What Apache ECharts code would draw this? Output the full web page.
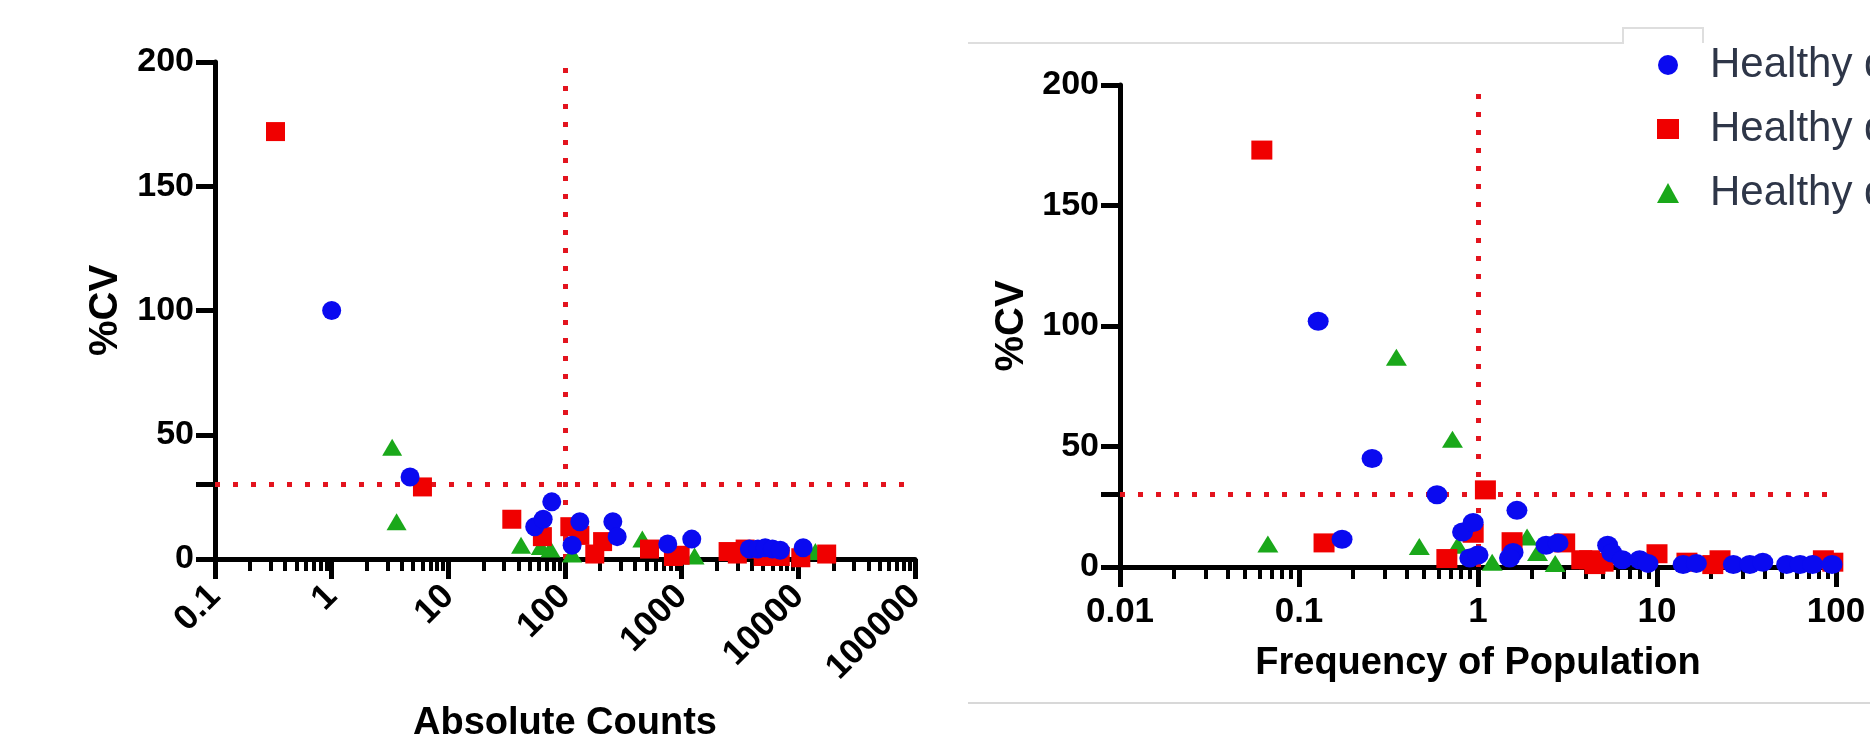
<!DOCTYPE html>
<html><head><meta charset="utf-8">
<script src="https://cdn.jsdelivr.net/npm/echarts@6/dist/echarts.min.js"></script>
<style>html,body{margin:0;padding:0;background:#fff}#c{width:1870px;height:748px}</style>
</head><body><div id="c"></div>
<script>
// ---------- data ----------
const seriesNames = ['Healthy donor 1', 'Healthy donor 2', 'Healthy donor 3'];
// Left panel: [absolute count, %CV]
const countsDonor1 = [[1,100],[4.7,33],[55,13],[65,16],[77,23],[115,5.5],[134,15],[257,15],[280,9],[760,6],[1220,8],[3800,4],[4500,4],[5200,4.5],[6000,4],[7000,3.5],[11000,4.5]];
const countsDonor2 = [[0.33,172],[6,29],[35,16],[64,9],[110,13],[134,9.5],[180,2],[210,7],[530,4],[850,1],[970,1.5],[2500,3],[3000,2],[3500,4],[5000,1],[7000,1],[10500,0.5],[17500,2]];
const countsDonor3 = [[3.3,45],[3.6,15],[42,5.5],[62,5],[75,4],[115,2],[460,8],[1290,1.2],[14000,3]];
// Right panel: [frequency of population, %CV]
const freqDonor1 = [[0.128,102],[0.174,11.5],[0.256,45],[0.59,30],[0.82,14.5],[0.94,18.5],[0.9,3.7],[1.0,5],[1.65,23.5],[1.57,6],[1.5,3.7],[2.4,9],[2.8,10],[5.3,9],[5.6,5.8],[6.4,3],[8,3],[8.9,1.5],[14,1],[16.6,1.5],[26.7,1],[33,1],[39,2],[53,1],[63,1],[74,1],[95,1]];
const freqDonor2 = [[0.062,173],[0.138,10],[0.67,3.5],[0.94,14],[1.1,32],[1.55,10.5],[3.05,10],[3.8,3],[4.2,3],[5,2],[4.5,1],[10,5.5],[14.7,2],[20.5,1],[22.5,3],[85,3],[96,2]];
const freqDonor3 = [[0.067,9.5],[0.35,87],[0.47,8.5],[0.72,53],[0.77,9],[1.2,2],[1.88,12.5],[2.15,6],[2.7,1.5]];
// ticks / thresholds
const leftXTickLabels = ['0.1','1','10','100','1000','10000','100000'];
const rightXTickLabels = ['0.01','0.1','1','10','100'];
const yTickLabels = [0, 50, 100, 150, 200];
const yTickMarks = [0, 30, 50, 100, 150, 200];
const cvThreshold = 30;
const countThreshold = 100;
const freqThreshold = 1;
const leftLineEnd = 100000;
const rightLineEnd = 90;

// ---------- style ----------
const FONT = '"Liberation Sans", Arial, sans-serif';
const colors = ['#0a0af0', '#f00000', '#1aa81a'];
const symbols = ['circle', 'rect', 'triangle'];

function labelFor(list) {
  return function (v) {
    for (const l of list) { if (Math.abs(Math.log10(+l) - Math.log10(v)) < 1e-6) return l; }
    return '';
  };
}

function xAxisCfg(grid, labels, rotate, margin, name, nameGap) {
  return {
    gridIndex: grid, type: 'log', logBase: 10,
    min: +labels[0], max: +labels[labels.length - 1],
    axisLine: { show: true, onZero: false, lineStyle: { color: '#000', width: 5 } },
    axisTick: { show: true, length: 20, lineStyle: { color: '#000', width: 5 } },
    minorTick: { show: true, splitNumber: 9, length: 12, lineStyle: { color: '#000', width: 4 } },
    axisLabel: { formatter: labelFor(labels), rotate: rotate, margin: margin, fontSize: 35, fontWeight: 'bold', color: '#000', fontFamily: FONT, showMinLabel: true, showMaxLabel: true },
    splitLine: { show: false }, minorSplitLine: { show: false },
    name: name, nameLocation: 'middle', nameGap: nameGap,
    nameTextStyle: { fontSize: 38, fontWeight: 'bold', color: '#000', fontFamily: FONT }
  };
}
function yAxisCfg(grid, nameGap) {
  return {
    gridIndex: grid, type: 'value', min: 0, max: 200, interval: 50,
    axisLine: { show: true, onZero: false, lineStyle: { color: '#000', width: 5 } },
    axisTick: { show: true, length: 19, customValues: yTickMarks, lineStyle: { color: '#000', width: 5 } },
    axisLabel: { customValues: yTickLabels, margin: 21, fontSize: 34, fontWeight: 'bold', color: '#000', fontFamily: FONT },
    splitLine: { show: false },
    name: '%CV', nameLocation: 'middle', nameGap: nameGap,
    nameTextStyle: { fontSize: 40, fontWeight: 'bold', color: '#000', fontFamily: FONT }
  };
}

const dotLine = { color: '#e3141e', width: 5, type: [5, 13] };
function markLines(xMin, xEnd, xThr) {
  return {
    silent: true, symbol: ['none', 'none'], label: { show: false }, z: 1,
    lineStyle: dotLine, emphasis: { disabled: true },
    data: [
      [{ coord: [xMin, cvThreshold] }, { coord: [xEnd, cvThreshold] }],
      [{ coord: [xThr, 0] }, { coord: [xThr, 200] }]
    ]
  };
}

const leftData = [countsDonor1, countsDonor2, countsDonor3];
const rightData = [freqDonor1, freqDonor2, freqDonor3];
const series = [];
// draw order: green, red, blue (blue on top)
[2, 1, 0].forEach(function (i) {
  series.push({
    name: seriesNames[i], type: 'scatter', xAxisIndex: 0, yAxisIndex: 0,
    data: leftData[i], symbol: symbols[i],
    symbolSize: i === 2 ? [20, 17] : 19,
    itemStyle: { color: colors[i], opacity: 1 },
    markLine: i === 2 ? markLines(+leftXTickLabels[0], leftLineEnd, countThreshold) : undefined
  });
  series.push({
    name: seriesNames[i], type: 'scatter', xAxisIndex: 1, yAxisIndex: 1,
    data: rightData[i], symbol: symbols[i],
    symbolSize: i === 2 ? [21, 17] : [21, 19],
    itemStyle: { color: colors[i], opacity: 1 },
    markLine: i === 2 ? markLines(+rightXTickLabels[0], rightLineEnd, freqThreshold) : undefined
  });
});

const chart = echarts.init(document.getElementById('c'), null, { renderer: 'canvas' });
chart.setOption({
  animation: false,
  backgroundColor: '#fff',
  grid: [
    { left: 215, top: 62, width: 700, height: 500 },
    { left: 1120, top: 85, width: 716, height: 482 }
  ],
  xAxis: [
    xAxisCfg(0, leftXTickLabels, 45, 32, 'Absolute Counts', 146),
    xAxisCfg(1, rightXTickLabels, 0, 28, 'Frequency of Population', 78)
  ],
  yAxis: [yAxisCfg(0, 89), yAxisCfg(1, 88)],
  legend: {
    data: seriesNames, orient: 'vertical', left: 1652, top: 39,
    itemWidth: 22, itemHeight: 20, itemGap: 22, selectedMode: false,
    formatter: function (n) { return '{t|' + n + '}'; },
    textStyle: { fontSize: 42, color: '#2e3648', fontFamily: FONT,
      rich: { t: { fontSize: 42, color: '#2e3648', fontFamily: FONT, padding: [0, 0, 0, 26] } } }
  },
  graphic: [
    { type: 'polyline', silent: true, z: 0, shape: { points: [[968, 43], [1623, 43], [1623, 28], [1703, 28], [1703, 43]] }, style: { stroke: '#dedede', lineWidth: 2, fill: null } },
    { type: 'line', silent: true, z: 0, shape: { x1: 968, y1: 703, x2: 1870, y2: 703 }, style: { stroke: '#d8d8d8', lineWidth: 2 } }
  ],
  series: series
});
</script></body></html>
